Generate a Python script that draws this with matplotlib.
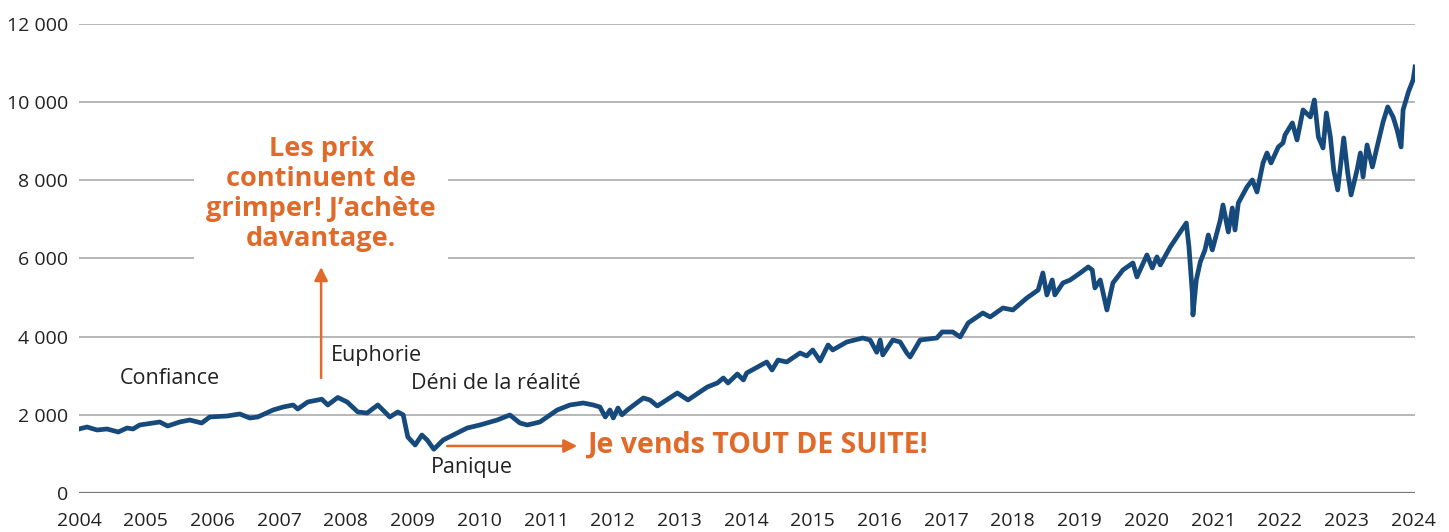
import matplotlib
matplotlib.use("Agg")
import matplotlib.pyplot as plt
from matplotlib.ticker import FuncFormatter

# ---- data (decimal year, index level) ----
years = [
    2004.00, 2004.12, 2004.27, 2004.42, 2004.59, 2004.72, 2004.81, 2004.91,
    2005.11, 2005.21, 2005.33, 2005.51, 2005.66, 2005.84, 2005.96, 2006.22,
    2006.41, 2006.56, 2006.68, 2006.91, 2007.06, 2007.21, 2007.28, 2007.43,
    2007.64, 2007.73, 2007.88, 2008.02, 2008.18, 2008.32, 2008.48, 2008.66,
    2008.78, 2008.86, 2008.93, 2009.04, 2009.14, 2009.22, 2009.32, 2009.46,
    2009.67, 2009.82, 2010.01, 2010.27, 2010.46, 2010.61, 2010.72, 2010.91,
    2011.17, 2011.36, 2011.56, 2011.71, 2011.81, 2011.89, 2011.96, 2012.01,
    2012.08, 2012.14, 2012.22, 2012.46, 2012.56, 2012.67, 2012.97, 2013.13,
    2013.42, 2013.57, 2013.66, 2013.73, 2013.87, 2013.96, 2014.01, 2014.31,
    2014.39, 2014.48, 2014.61, 2014.81, 2014.91, 2015.00, 2015.11, 2015.23,
    2015.30, 2015.51, 2015.75, 2015.86, 2015.96, 2016.01, 2016.05, 2016.20,
    2016.31, 2016.41, 2016.46, 2016.61, 2016.86, 2016.94, 2017.10, 2017.21,
    2017.33, 2017.55, 2017.66, 2017.85, 2018.00, 2018.21, 2018.38, 2018.45,
    2018.51, 2018.59, 2018.63, 2018.75, 2018.86, 2019.01, 2019.13, 2019.19,
    2019.23, 2019.31, 2019.35, 2019.41, 2019.50, 2019.65, 2019.80, 2019.86,
    2020.01, 2020.09, 2020.16, 2020.21, 2020.36, 2020.51, 2020.60, 2020.64,
    2020.69, 2020.70, 2020.75, 2020.81, 2020.88, 2020.93, 2020.99, 2021.11,
    2021.15, 2021.23, 2021.29, 2021.33, 2021.38, 2021.51, 2021.59, 2021.66,
    2021.75, 2021.81, 2021.87, 2021.98, 2022.05, 2022.08, 2022.19, 2022.26,
    2022.35, 2022.46, 2022.52, 2022.58, 2022.65, 2022.70, 2022.76, 2022.81,
    2022.87, 2022.91, 2022.96, 2023.02, 2023.07, 2023.16, 2023.21, 2023.25,
    2023.31, 2023.39, 2023.46, 2023.55, 2023.62, 2023.70, 2023.76, 2023.82,
    2023.85, 2023.93, 2024.00, 2024.03,
]
values = [
    1638, 1689, 1612, 1638, 1561, 1663, 1638, 1740,
    1791, 1817, 1714, 1817, 1868, 1791, 1945, 1970,
    2022, 1919, 1945, 2124, 2200, 2252, 2150, 2329,
    2400, 2252, 2445, 2329, 2073, 2047, 2252, 1945,
    2073, 2000, 1433, 1228, 1484, 1356, 1120, 1356,
    1535, 1663, 1740, 1868, 1996, 1791, 1740, 1817,
    2124, 2252, 2303, 2252, 2200, 1945, 2124, 1919,
    2175, 2000, 2124, 2431, 2380, 2226, 2559, 2380,
    2713, 2815, 2943, 2815, 3045, 2892, 3071, 3352,
    3147, 3403, 3352, 3583, 3506, 3660, 3378, 3787,
    3660, 3864, 3966, 3915, 3600, 3915, 3532, 3915,
    3864, 3583, 3480, 3915, 3966, 4120, 4120, 3992,
    4350, 4606, 4504, 4734, 4683, 4990, 5195, 5630,
    5067, 5451, 5067, 5374, 5451, 5630, 5784, 5707,
    5246, 5451, 5144, 4683, 5374, 5707, 5886, 5528,
    6091, 5758, 6040, 5835, 6296, 6679, 6909, 6296,
    5118, 4555, 5451, 5912, 6219, 6602, 6219, 6986,
    7370, 6679, 7293, 6730, 7421, 7830, 8009, 7702,
    8444, 8700, 8444, 8854, 8956, 9161, 9468, 9033,
    9801, 9622, 10057, 9110, 8828, 9724, 9110, 8265,
    7754, 8342, 9084, 8188, 7626, 8265, 8700, 8086,
    8905, 8342, 8854, 9494, 9878, 9622, 9289, 8854,
    9801, 10262, 10569, 10900,
]

xtick_years = list(range(2004, 2025))
ytick_values = [0, 2000, 4000, 6000, 8000, 10000, 12000]

LINE = "#174a7c"
ORANGE = "#df6a2a"
TXT = "#222222"

plt.rcParams['font.family'] = ['Open Sans', 'DejaVu Sans']

fig = plt.figure(figsize=(14.49, 5.32), dpi=100)
ax = fig.add_axes([0.0545, 0.0733, 0.9221, 0.8816])

ax.set_xlim(2004, 2024.03)
ax.set_ylim(0, 12000)

for v in ytick_values[1:]:
    ax.axhline(v, color="#a3a3a3", lw=1.1, zorder=1)
ax.axhline(0, color="#777777", lw=1.6, zorder=1)

ax.plot(years, values, color=LINE, lw=3.4, solid_joinstyle='round', zorder=3)

for s in ax.spines.values():
    s.set_visible(False)

ax.set_xticks(xtick_years)
ax.set_yticks(ytick_values)
ax.yaxis.set_major_formatter(FuncFormatter(lambda v, p: f"{int(v):,}".replace(",", " ")))
ax.tick_params(axis='both', length=0, labelsize=14, labelcolor=TXT)
ax.tick_params(axis='x', pad=14)
ax.tick_params(axis='y', pad=8)

# phase labels
ax.text(2005.36, 2917, "Confiance", fontsize=15.5, color=TXT, ha='center', va='center', zorder=5)
ax.text(2007.78, 3506, "Euphorie", fontsize=15.5, color=TXT, ha='left', va='center', zorder=5)
ax.text(2008.98, 2789, "Déni de la réalité", fontsize=15.5, color=TXT, ha='left', va='center', zorder=5)
ax.text(2009.28, 665, "Panique", fontsize=15.5, color=TXT, ha='left', va='center', zorder=5)

# orange annotations
ax.text(2007.63, 7650, "Les prix\ncontinuent de\ngrimper! J’achète\ndavantage.",
        fontsize=19.5, fontweight='bold', color=ORANGE, ha='center', va='center',
        linespacing=1.2, zorder=6,
        bbox=dict(boxstyle='square,pad=0.45', facecolor='white', edgecolor='none'))
ax.annotate("", xy=(2007.63, 5780), xytext=(2007.63, 2943),
            arrowprops=dict(arrowstyle='-|>', color=ORANGE, lw=1.8, mutation_scale=20,
                            shrinkA=0, shrinkB=0), zorder=4)
ax.annotate("", xy=(2011.47, 1203), xytext=(2009.52, 1203),
            arrowprops=dict(arrowstyle='-|>', color=ORANGE, lw=1.8, mutation_scale=20,
                            shrinkA=0, shrinkB=0), zorder=4)
ax.text(2011.62, 1228, "Je vends TOUT DE SUITE!", fontsize=20.5, fontweight='bold',
        color=ORANGE, ha='left', va='center', zorder=6)

fig.savefig("out.png", dpi=100)
